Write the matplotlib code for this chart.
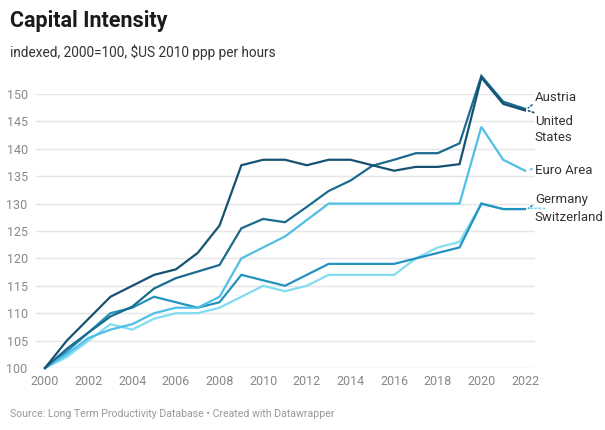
import matplotlib.pyplot as plt

plt.rcParams['font.family'] = ['Roboto', 'DejaVu Sans']

years = list(range(2000, 2023))

# indexed, 2000=100
united_states = [100, 105, 109, 113, 115, 117, 118, 121, 126, 137, 138, 138, 137,
                 138, 138, 137, 136, 136.7, 136.7, 137.2, 153, 148.2, 147]
austria = [100, 103.5, 106.5, 109.4, 111.2, 114.5, 116.4, 117.6, 118.8, 125.5, 127.2, 126.6,
           129.4, 132.3, 134.2, 136.9, 138, 139.2, 139.2, 141, 153.3, 148.6, 147.3]
euro_area = [100, 102.5, 105.5, 107, 108, 110, 111, 111, 113, 120, 122, 124, 127,
             130, 130, 130, 130, 130, 130, 130, 144, 138, 136]
germany = [100, 103, 106.5, 110, 111, 113, 112, 111, 112, 117, 116, 115, 117,
           119, 119, 119, 119, 120, 121, 122, 130, 129, 129]
switzerland = [100, 102, 105, 108, 107, 109, 110, 110, 111, 113, 115, 114, 115,
               117, 117, 117, 117, 120, 122, 123, 130, 129, 129]

series = [
    ('Switzerland', switzerland, '#82dcf2'),
    ('Germany', germany, '#2293bf'),
    ('Euro Area', euro_area, '#4fbfe6'),
    ('Austria', austria, '#1b6b8f'),
    ('United States', united_states, '#155272'),
]

# label y positions (data units) at right side
label_y = {'Austria': 149.3, 'United States': 143.5, 'Euro Area': 136.1,
           'Germany': 130.7, 'Switzerland': 127.4}

fig = plt.figure(figsize=(6.05, 4.3), dpi=100)
W, H = 605, 430
ax = fig.add_axes([36 / W, (H - 368) / H, (535 - 36) / W, (368 - 94) / H])

for name, vals, col in series:
    ax.plot(years, vals, color=col, lw=1.6, clip_on=False, solid_joinstyle='miter', zorder=3)

for name, vals, col in series:
    txt = 'United\nStates' if name == 'United States' else name
    ax.annotate(txt, xy=(years[-1] + 0.1, vals[-1]), xytext=(years[-1] + 0.45, label_y[name]),
                textcoords='data', fontsize=9.5, color='#333333', va='center', ha='left',
                linespacing=1.25, annotation_clip=False,
                arrowprops=dict(arrowstyle='-', color=col, lw=1.2, linestyle=(0, (1, 1.5)),
                                shrinkA=0, shrinkB=1,
                                connectionstyle='arc3,rad=0.2'))

ax.set_xlim(2000 - 9 / 21.82, 2022 + 10 / 21.82)
ax.set_ylim(100, 150)
ax.set_yticks(range(100, 151, 5))
ax.set_xticks(range(2000, 2023, 2))
ax.grid(axis='y', color='#e5e5e5', lw=1)
ax.set_axisbelow(True)
for s in ax.spines.values():
    s.set_visible(False)
ax.tick_params(length=0, labelsize=9, colors='#888888', pad=6)
ax.tick_params(axis='x', pad=5)

fig.text(10 / W, 1 - 21 / H, 'Capital Intensity', fontsize=15.5, fontweight='bold',
         color='#1a1a1a', va='center', ha='left')
fig.text(10 / W, 1 - 52 / H, 'indexed, 2000=100, $US 2010 ppp per hours', fontsize=9.8,
         color='#333333', va='center', ha='left')
fig.text(10 / W, 1 - 414 / H, 'Source: Long Term Productivity Database \u2022 Created with Datawrapper',
         fontsize=7.6, color='#999999', va='center', ha='left')

fig.savefig('out.png', dpi=100)
